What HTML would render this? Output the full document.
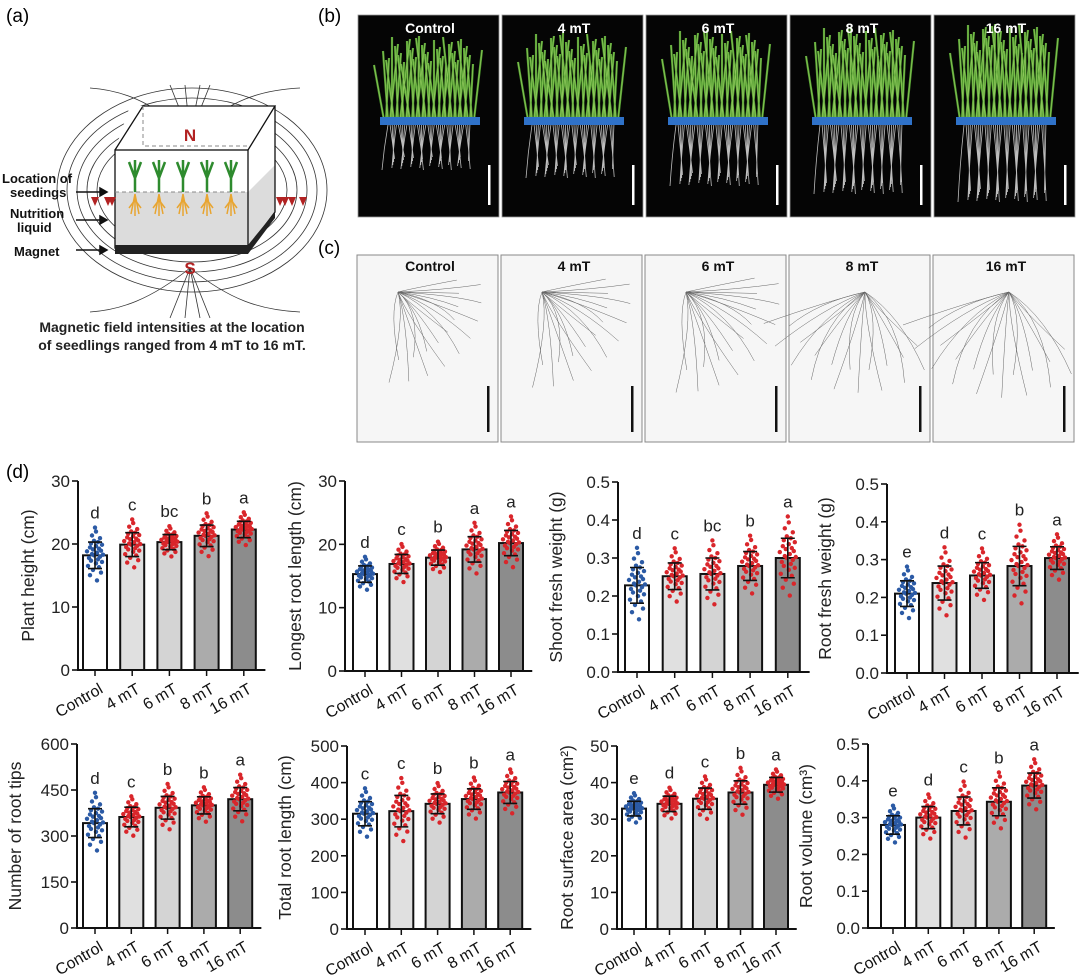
<!DOCTYPE html>
<html><head><meta charset="utf-8"><style>
html,body{margin:0;padding:0;background:#fff;}
svg{display:block;font-family:"Liberation Sans",Arial,sans-serif;}
</style></head><body>
<svg id="fig" width="1080" height="978" viewBox="0 0 1080 978" xmlns="http://www.w3.org/2000/svg">
<g>
 <text x="6" y="22" font-size="19">(a)</text>
 <g fill="none" stroke="#333" stroke-width="0.8">
  <ellipse cx="192" cy="190" rx="95" ry="62"/><ellipse cx="192" cy="190" rx="105" ry="72"/>
  <ellipse cx="192" cy="190" rx="115" ry="82"/><ellipse cx="192" cy="190" rx="125" ry="92"/>
  <ellipse cx="192" cy="190" rx="135" ry="102"/>
  <path d="M190 135 C150 100 120 90 90 88 M190 135 C230 100 260 90 300 88 M190 135 L170 85 M190 135 L210 85 M190 135 L185 85 M190 135 L200 85"/>
  <path d="M190 268 C150 300 120 310 90 312 M190 268 C230 300 260 310 300 312 M190 268 L170 318 M190 268 L210 318 M190 268 L185 318 M190 268 L200 318"/>
 </g>
 <polygon points="130,106 275,106 275,212 248,248 115,248 115,150" fill="#fff"/>
 <polygon points="115,192 248,192 275,165 275,212 248,248 115,248" fill="#dcdcdc"/>
 <g fill="none" stroke="#111" stroke-width="1.3">
  <rect x="115" y="150" width="133" height="98"/>
  <path d="M115 150 L143 106 L275 106 L248 150 M275 106 L275 212 L248 248"/>
 </g>
 <path d="M143 106 L143 146 L248 146 M115 192 L248 192" stroke="#888" stroke-dasharray="4,3" fill="none"/>
 <polygon points="115,245 248,245 275,212 275,218 248,254 115,254" fill="#222"/>
 <g id="seedlings"></g>
 <text x="190" y="141" font-size="17" font-weight="bold" fill="#b22222" text-anchor="middle">N</text>
 <text x="190" y="274" font-size="17" font-weight="bold" fill="#b22222" text-anchor="middle">S</text>
 <g fill="#b22222">
  <polygon points="91,197 99,197 95,206"/><polygon points="104,197 112,197 108,206"/><polygon points="108,197 116,197 112,206"/>
  <polygon points="276,197 284,197 280,206"/><polygon points="281,197 289,197 285,206"/><polygon points="288,197 296,197 292,206"/><polygon points="299,197 307,197 303,206"/>
 </g>
 <g font-size="13" font-weight="bold" fill="#111">
  <text x="2" y="183">Location of</text>
  <text x="10" y="197">seedings</text>
  <text x="10" y="218">Nutrition</text>
  <text x="17" y="232">liquid</text>
  <text x="14" y="256">Magnet</text>
 </g>
 <g stroke="#111" stroke-width="1.5" fill="#111">
  <line x1="76" y1="192" x2="103" y2="192"/><polygon points="107,192 100,188 100,196"/>
  <line x1="76" y1="220" x2="103" y2="220"/><polygon points="107,220 100,216 100,224"/>
  <line x1="76" y1="250" x2="103" y2="250"/><polygon points="107,250 100,246 100,254"/>
 </g>
 <text x="172" y="332" font-size="14" font-weight="bold" text-anchor="middle" fill="#222">Magnetic field intensities at the location</text>
 <text x="172" y="350" font-size="14" font-weight="bold" text-anchor="middle" fill="#222">of seedlings ranged from 4 mT to 16 mT.</text>
</g>
<text x="318" y="22" font-size="19">(b)</text>
<text x="318" y="254" font-size="19">(c)</text>
<text x="6" y="478" font-size="19">(d)</text>
<g id="panelB"></g>
<g id="panelC"></g>
<g id="charts"></g>
</svg>
<script>
// ---- data ----
const categories = ["Control","4 mT","6 mT","8 mT","16 mT"];
const plantHeightMean = [18.2,19.9,20.3,21.3,22.3];
const plantHeightSD = [2.1,1.9,1.2,1.7,1.3];
const plantHeightLetters = ["d","c","bc","b","a"];
const plantHeightTicks = ["0","10","20","30"];
const longestRootMean = [15.3,16.9,17.9,19.2,20.2];
const longestRootSD = [1.3,1.5,1.2,2.0,2.0];
const longestRootLetters = ["d","c","b","a","a"];
const longestRootTicks = ["0","10","20","30"];
const shootFWMean = [0.228,0.252,0.258,0.279,0.300];
const shootFWSD = [0.047,0.035,0.042,0.038,0.052];
const shootFWLetters = ["d","c","bc","b","a"];
const weightTicks = ["0.0","0.1","0.2","0.3","0.4","0.5"];
const rootFWMean = [0.210,0.238,0.258,0.283,0.304];
const rootFWSD = [0.034,0.045,0.034,0.052,0.030];
const rootFWLetters = ["e","d","c","b","a"];
const rootTipsMean = [342,362,392,400,420];
const rootTipsSD = [47,32,37,28,38];
const rootTipsLetters = ["d","c","b","b","a"];
const rootTipsTicks = ["0","150","300","450","600"];
const totalLenMean = [315,322,342,355,373];
const totalLenSD = [33,43,27,28,30];
const totalLenLetters = ["c","c","b","b","a"];
const totalLenTicks = ["0","100","200","300","400","500"];
const surfaceMean = [32.9,34.2,35.6,37.3,39.4];
const surfaceSD = [2.0,2.1,2.9,3.2,2.0];
const surfaceLetters = ["e","d","c","b","a"];
const surfaceTicks = ["0","10","20","30","40","50"];
const volumeMean = [0.280,0.300,0.318,0.343,0.387];
const volumeSD = [0.025,0.030,0.038,0.038,0.034];
const volumeLetters = ["e","d","c","b","a"];
// normalized spread of individual plants (in SD units)
const dotZ = [-1.9,-1.5,-1.3,-1.1,-0.9,-0.8,-0.6,-0.5,-0.4,-0.3,-0.2,-0.1,0,0.05,0.1,0.2,0.3,0.35,0.45,0.5,0.6,0.7,0.8,0.9,1.0,1.1,1.3,1.5,1.8,2.1];
const dotJitter = [0.2,-0.5,0.6,-0.2,0.4,-0.7,0.1,0.7,-0.4,0.3,-0.6,0.5,-0.1,0.8,-0.3,0.2,-0.8,0.6,-0.2,0.4,-0.5,0.1,0.7,-0.4,0.3,-0.1,0.5,-0.3,0.1,0];

const NS="http://www.w3.org/2000/svg";
function mk(tag,attrs,parent){const e=document.createElementNS(NS,tag);for(const k in attrs)e.setAttribute(k,attrs[k]);if(parent)parent.appendChild(e);return e;}

const charts=[
 {title:"Plant height (cm)",mean:plantHeightMean,sd:plantHeightSD,letters:plantHeightLetters,ticks:plantHeightTicks,max:30,ax:78,top:481,zero:670,c0:95,sp:37.2},
 {title:"Longest root length (cm)",mean:longestRootMean,sd:longestRootSD,letters:longestRootLetters,ticks:longestRootTicks,max:30,ax:345,top:481,zero:671,c0:365,sp:36.5},
 {title:"Shoot fresh weight (g)",mean:shootFWMean,sd:shootFWSD,letters:shootFWLetters,ticks:weightTicks,max:0.5,ax:618,top:482,zero:672,c0:637,sp:37.7},
 {title:"Root fresh weight (g)",mean:rootFWMean,sd:rootFWSD,letters:rootFWLetters,ticks:weightTicks,max:0.5,ax:887,top:484,zero:673,c0:907,sp:37.5},
 {title:"Number of root tips",mean:rootTipsMean,sd:rootTipsSD,letters:rootTipsLetters,ticks:rootTipsTicks,max:600,ax:77,top:744,zero:928,c0:95,sp:36.3},
 {title:"Total root length (cm)",mean:totalLenMean,sd:totalLenSD,letters:totalLenLetters,ticks:totalLenTicks,max:500,ax:347,top:746,zero:929,c0:365,sp:36.3},
 {title:"Root surface area (cm²)",mean:surfaceMean,sd:surfaceSD,letters:surfaceLetters,ticks:surfaceTicks,max:50,ax:617,top:746,zero:929,c0:634,sp:35.5},
 {title:"Root volume (cm³)",mean:volumeMean,sd:volumeSD,letters:volumeLetters,ticks:weightTicks,max:0.5,ax:868,top:744,zero:928,c0:893,sp:35.3}
];
const barFill=["#ffffff","#e0e0e0","#d4d4d4","#ababab","#8c8c8c"];
const root=document.getElementById("charts");
charts.forEach((c,ci)=>{
 const g=mk("g",{},root);
 
 
 const y=v=>c.zero-(v/c.max)*(c.zero-c.top);
 const x=i=>c.c0+i*c.sp;
 const right=x(4)+c.sp/2+3;
 c.mean.forEach((m,i)=>{
  const bw=24;
  const b=mk("rect",{x:x(i)-bw/2,y:y(m),width:bw,height:c.zero-y(m),fill:barFill[i],stroke:"#111","stroke-width":2},g);
  
  
  const col=i===0?"#2b5aa5":"#d9262b";
  let maxv=m+c.sd[i];
  dotZ.forEach((z,k)=>{
   const v=m+z*c.sd[i];
   if(v>maxv)maxv=v;
   const d=mk("circle",{cx:x(i)+dotJitter[k]*10,cy:y(v),r:2.2,fill:col},g);
   
   
  });
  const e=mk("path",{d:`M${x(i)} ${y(m-c.sd[i])}V${y(m+c.sd[i])}M${x(i)-7} ${y(m+c.sd[i])}h14M${x(i)-7} ${y(m-c.sd[i])}h14`,stroke:"#111","stroke-width":1.6,fill:"none"},g);
  
  
  const lt=mk("text",{x:x(i),y:y(maxv)-9,"font-size":17,"text-anchor":"middle",fill:"#222"},g);
  lt.textContent=c.letters[i];
  
  
  mk("line",{x1:x(i),y1:c.zero,x2:x(i),y2:c.zero+6,stroke:"#111","stroke-width":1.5},g);
  const xl=mk("text",{x:x(i)+9,y:c.zero+22,"font-size":16,"text-anchor":"end",fill:"#111",transform:`rotate(-30 ${x(i)+9} ${c.zero+22})`},g);
  xl.textContent=categories[i];
  
  
 });
 const ax=mk("path",{d:`M${c.ax} ${c.top}V${c.zero}H${right}`,stroke:"#111","stroke-width":2,fill:"none"},g);
 
 
 const n=c.ticks.length-1;
 c.ticks.forEach((t,k)=>{
  const ty=c.zero-(k/n)*(c.zero-c.top);
  mk("line",{x1:c.ax-6,y1:ty,x2:c.ax,y2:ty,stroke:"#111","stroke-width":1.6},g);
  const tl=mk("text",{x:c.ax-8,y:ty+6,"font-size":17,"text-anchor":"end",fill:"#222"},g);
  tl.textContent=t;
  
  
 });
 const tx=c.ax-(c.ticks[1].length>2?56:44), tyy=(c.top+c.zero)/2;
 const yt=mk("text",{x:tx,y:tyy,"font-size":17.5,"text-anchor":"middle",fill:"#222",transform:`rotate(-90 ${tx} ${tyy})`},g);
 yt.textContent=c.title;
 
 
});

// panel b & c illustrations
const labels=["Control","4 mT","6 mT","8 mT","16 mT"];
const pb=document.getElementById("panelB"), pc=document.getElementById("panelC");
labels.forEach((l,i)=>{
 const x0=358+i*144;
 const gb=mk("g",{},pb);
 
 
 mk("rect",{x:x0,y:15,width:141,height:202,fill:"#050505",stroke:"#999","stroke-width":0.8},gb);
 let d="";
 for(let k=0;k<46;k++){const bx=x0+26+(k*2.0);const h=55+((k*37)%30)+i*3;const lean=((k*13)%21)-10;d+=`M${bx} 120 Q${bx+lean/2} ${120-h/2} ${bx+lean} ${120-h}`;}
 mk("path",{d:d,stroke:"#4f9a2e","stroke-width":2.2,fill:"none"},gb);
 mk("path",{d:d,stroke:"#8cc65a","stroke-width":0.8,fill:"none"},gb);
 let r="";
 const rl=45+i*8;
 for(let k=0;k<40;k++){const bx=x0+30+k*2.1;const w=((k*7)%9)-4;r+=`M${bx} 125 Q${bx+w} ${125+rl/2} ${bx+w*1.5} ${125+rl-((k*11)%14)}`;}
 mk("path",{d:r,stroke:"#bdbdbd","stroke-width":0.8,fill:"none"},gb);
 mk("rect",{x:x0+22,y:117,width:100,height:8,fill:"#2f72c9"},gb);
 mk("rect",{x:x0+130,y:165,width:2.5,height:40,fill:"#fff"},gb);
 const tb=mk("text",{x:x0+72,y:33,"font-size":14,"font-weight":"bold",fill:"#fff","text-anchor":"middle"},gb);
 tb.textContent=l;
 
 

 const gc=mk("g",{},pc);
 
 
 mk("rect",{x:x0-1,y:255,width:141,height:187,fill:"#f6f6f6",stroke:"#888","stroke-width":1},gc);
 let s="";
 const ox=x0+(i<3?40:75), oy=292;
 for(let k=0;k<18;k++){const a=(i<3?-0.2:0.8)+k*(i<3?0.11:0.12);const L=60+((k*23)%45)+i*5;const bend=((k*7)%11)-5;s+=`M${ox} ${oy} Q${ox+Math.cos(a)*L*0.5+bend*3} ${oy+Math.sin(a)*L*0.3} ${ox+Math.cos(a)*L} ${oy+Math.sin(a)*L}`;}
 mk("path",{d:s,stroke:"#666","stroke-width":0.5,fill:"none"},gc);
 mk("rect",{x:x0+129,y:386,width:2.5,height:46,fill:"#111"},gc);
 const tc=mk("text",{x:x0+72,y:271,"font-size":14,"font-weight":"bold",fill:"#111","text-anchor":"middle"},gc);
 tc.textContent=l;
 
 
});
// seedlings in panel a
const sg=document.getElementById("seedlings");
for(let k=0;k<5;k++){
 const sx=135+k*24;
 mk("path",{d:`M${sx} 192 L${sx} 175 M${sx} 178 L${sx-6} 162 M${sx} 178 L${sx+6} 162 M${sx} 180 L${sx} 160`,stroke:"#2e8b2e","stroke-width":2.5,fill:"none"},sg);
 mk("path",{d:`M${sx} 194 l-4 20 M${sx} 194 l4 20 M${sx} 194 l0 22 M${sx} 200 l-6 8 M${sx} 200 l6 8`,stroke:"#e8a531","stroke-width":1.5,fill:"none"},sg);
}
</script>
</body></html>
